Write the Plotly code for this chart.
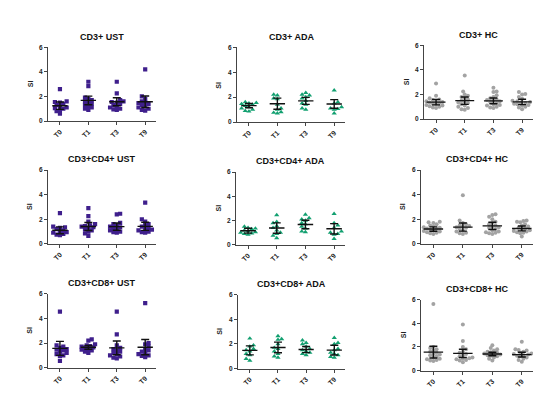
import plotly.graph_objects as go

W, H = 550, 394

categories = ["T0", "T1", "T3", "T9"]
y_ticks = [0, 2, 4, 6]

titles = [
    "CD3+ UST", "CD3+ ADA", "CD3+ HC",
    "CD3+CD4+ UST", "CD3+CD4+ ADA", "CD3+CD4+ HC",
    "CD3+CD8+ UST", "CD3+CD8+ ADA", "CD3+CD8+ HC",
]

# ---- data ----
cd3_ust = [
    [2.6, 1.6, 1.55, 1.5, 1.4, 1.3, 1.2, 1.1, 1.05, 1.0, 0.9, 0.8, 0.6],
    [3.2, 2.85, 1.9, 1.8, 1.7, 1.6, 1.5, 1.4, 1.3, 1.2, 1.1, 1.0, 0.9],
    [3.2, 2.25, 1.7, 1.6, 1.55, 1.5, 1.4, 1.3, 1.2, 1.1, 1.0, 0.95, 0.9],
    [4.2, 2.0, 1.8, 1.6, 1.5, 1.45, 1.4, 1.3, 1.2, 1.1, 1.0, 0.9, 0.85],
]
cd3_ust_mean = [1.25, 1.68, 1.57, 1.57]
cd3_ust_err = [0.3, 0.35, 0.33, 0.47]

cd3_ada = [
    [1.6, 1.55, 1.5, 1.45, 1.4, 1.3, 1.2, 1.1, 1.0, 0.9, 0.85],
    [2.2, 2.15, 1.9, 1.85, 1.4, 1.1, 1.0, 0.8, 0.75, 0.7],
    [2.35, 2.2, 2.15, 2.0, 1.9, 1.7, 1.5, 1.4, 1.1, 1.0],
    [2.55, 1.6, 1.5, 1.2, 1.1, 1.05, 1.0, 0.7],
]
cd3_ada_mean = [1.32, 1.47, 1.7, 1.45]
cd3_ada_err = [0.17, 0.45, 0.28, 0.35]

cd3_hc = [
    [2.9, 1.9, 1.7, 1.6, 1.55, 1.5, 1.45, 1.4, 1.35, 1.3, 1.25, 1.2, 1.15, 1.1, 1.05, 1.0, 0.95, 0.9],
    [3.55, 2.25, 2.0, 1.9, 1.8, 1.7, 1.6, 1.5, 1.4, 1.35, 1.3, 1.2, 1.1, 1.0, 0.9, 0.8, 0.75],
    [2.55, 2.25, 2.2, 1.95, 1.8, 1.7, 1.6, 1.55, 1.5, 1.45, 1.4, 1.3, 1.2, 1.15, 1.1, 1.0, 0.95, 0.9],
    [2.2, 2.05, 2.0, 1.8, 1.65, 1.5, 1.45, 1.4, 1.35, 1.3, 1.25, 1.2, 1.15, 1.1, 1.0, 0.95, 0.8],
]
cd3_hc_mean = [1.38, 1.5, 1.48, 1.4]
cd3_hc_err = [0.22, 0.3, 0.23, 0.22]

cd4_ust = [
    [2.5, 1.4, 1.35, 1.3, 1.2, 1.1, 1.0, 0.95, 0.9, 0.8, 0.75, 0.7],
    [2.9, 2.25, 1.8, 1.6, 1.5, 1.45, 1.4, 1.35, 1.3, 1.2, 1.1, 1.0, 0.85, 0.65],
    [2.45, 2.4, 1.7, 1.6, 1.5, 1.4, 1.35, 1.3, 1.2, 1.1, 1.0, 0.95, 0.9],
    [3.35, 2.0, 1.8, 1.6, 1.5, 1.4, 1.3, 1.2, 1.15, 1.1, 1.0, 0.95, 0.9],
]
cd4_ust_mean = [1.1, 1.41, 1.4, 1.42]
cd4_ust_err = [0.28, 0.33, 0.3, 0.33]

cd4_ada = [
    [1.5, 1.4, 1.35, 1.3, 1.2, 1.1, 1.05, 1.0, 0.95, 0.9, 0.85],
    [2.45, 1.9, 1.8, 1.55, 1.4, 1.2, 1.0, 0.9, 0.75, 0.55],
    [2.5, 2.2, 2.1, 2.0, 1.8, 1.7, 1.5, 1.35, 1.1, 1.05],
    [2.55, 1.8, 1.6, 1.4, 1.1, 1.0, 0.9, 0.85, 0.5],
]
cd4_ada_mean = [1.16, 1.38, 1.67, 1.32]
cd4_ada_err = [0.2, 0.43, 0.35, 0.43]

cd4_hc = [
    [1.8, 1.75, 1.7, 1.6, 1.5, 1.4, 1.35, 1.3, 1.25, 1.2, 1.15, 1.1, 1.05, 1.0, 0.95, 0.9, 0.85, 0.8],
    [3.95, 1.9, 1.7, 1.6, 1.5, 1.45, 1.4, 1.35, 1.3, 1.2, 1.1, 1.0, 0.9, 0.85, 0.8],
    [2.4, 2.35, 2.2, 2.0, 1.8, 1.7, 1.6, 1.5, 1.4, 1.35, 1.3, 1.2, 1.1, 1.0, 0.95, 0.9, 0.85, 0.8],
    [1.9, 1.85, 1.8, 1.75, 1.6, 1.5, 1.4, 1.3, 1.25, 1.2, 1.1, 1.05, 1.0, 0.95, 0.9, 0.85, 0.6],
]
cd4_hc_mean = [1.2, 1.36, 1.46, 1.25]
cd4_hc_err = [0.18, 0.33, 0.3, 0.2]

cd8_ust = [
    [4.55, 1.8, 1.7, 1.6, 1.5, 1.45, 1.4, 1.3, 1.2, 1.1, 1.0, 0.95, 0.55],
    [2.3, 2.2, 1.9, 1.8, 1.75, 1.7, 1.65, 1.6, 1.5, 1.45, 1.4, 1.3, 1.2],
    [4.55, 2.7, 1.8, 1.6, 1.5, 1.4, 1.3, 1.2, 1.1, 1.0, 0.9, 0.8, 0.75],
    [5.25, 2.0, 1.9, 1.7, 1.5, 1.4, 1.3, 1.2, 1.1, 1.0, 0.95, 0.85],
]
cd8_ust_mean = [1.56, 1.65, 1.6, 1.66]
cd8_ust_err = [0.57, 0.16, 0.56, 0.62]

cd8_ada = [
    [2.45, 1.9, 1.8, 1.6, 1.5, 1.4, 1.2, 1.1, 0.8, 0.65],
    [2.65, 2.4, 2.35, 2.0, 1.7, 1.6, 1.4, 1.2, 1.0, 0.9],
    [2.3, 2.1, 2.0, 1.8, 1.6, 1.5, 1.4, 1.3, 1.2, 1.1],
    [2.5, 2.1, 2.0, 1.6, 1.5, 1.3, 1.2, 1.1, 0.95, 0.9],
]
cd8_ada_mean = [1.48, 1.72, 1.55, 1.5]
cd8_ada_err = [0.37, 0.43, 0.25, 0.4]

cd8_hc = [
    [5.65, 2.0, 1.9, 1.8, 1.7, 1.6, 1.5, 1.4, 1.35, 1.3, 1.2, 1.1, 1.0, 0.95, 0.9, 0.85, 0.8],
    [3.9, 2.5, 2.0, 1.8, 1.6, 1.5, 1.4, 1.3, 1.2, 1.1, 1.05, 1.0, 0.95, 0.9, 0.85, 0.7],
    [2.15, 1.9, 1.8, 1.7, 1.6, 1.55, 1.5, 1.45, 1.4, 1.35, 1.3, 1.25, 1.2, 1.1, 1.0, 0.85],
    [2.45, 1.8, 1.75, 1.7, 1.6, 1.5, 1.45, 1.4, 1.35, 1.3, 1.25, 1.2, 1.1, 1.0, 0.9, 0.75],
]
cd8_hc_mean = [1.56, 1.45, 1.4, 1.35]
cd8_hc_err = [0.5, 0.35, 0.15, 0.2]

panel_data = [
    (cd3_ust, cd3_ust_mean, cd3_ust_err, "UST"),
    (cd3_ada, cd3_ada_mean, cd3_ada_err, "ADA"),
    (cd3_hc, cd3_hc_mean, cd3_hc_err, "HC"),
    (cd4_ust, cd4_ust_mean, cd4_ust_err, "UST"),
    (cd4_ada, cd4_ada_mean, cd4_ada_err, "ADA"),
    (cd4_hc, cd4_hc_mean, cd4_hc_err, "HC"),
    (cd8_ust, cd8_ust_mean, cd8_ust_err, "UST"),
    (cd8_ada, cd8_ada_mean, cd8_ada_err, "ADA"),
    (cd8_hc, cd8_hc_mean, cd8_hc_err, "HC"),
]

# ---- styles / layout (pixels) ----
styles = {
    "UST": dict(symbol="square", color="#3f1f8c", size=4.2, half=0.27, maxoff=0.26),
    "ADA": dict(symbol="triangle-up", color="#12a070", size=4.6, half=0.27, maxoff=0.26),
    "HC": dict(symbol="circle", color="#a3a3a3", size=4.0, half=0.33, maxoff=0.34),
}

# (x_left, x_right, y_top(=6), y_bottom(=0)) in pixels
boxes = [
    (40, 148, 36, 111), (229, 337, 36, 112), (416, 525, 34, 109),
    (40, 148, 161, 236), (228, 337, 163, 237), (413, 525, 161, 236),
    (40, 148, 287, 362), (230, 337, 288, 363), (413, 525, 293, 365),
]
XR = [-0.42, 3.38]


def swarm(vals, xs_px, ys_px, diam, maxoff):
    order = sorted(range(len(vals)), key=lambda i: vals[i])
    placed = []
    offs = [0.0] * len(vals)
    step = diam * 0.5
    lim = maxoff * xs_px
    for i in order:
        y = vals[i] * ys_px
        best, bestd = 0.0, -1.0
        k = 0
        found = False
        while k * step <= lim + 1e-9:
            cands = [0.0] if k == 0 else [k * step, -k * step]
            if len(placed) % 2 == 1:
                cands = cands[::-1]
            for c in cands:
                d = min([((c - px) ** 2 + (y - py) ** 2) ** 0.5 for px, py in placed] or [1e9])
                if d >= diam:
                    best = c
                    found = True
                    break
                if d > bestd:
                    bestd, best = d, c
            if found:
                break
            k += 1
        placed.append((best, y))
        offs[i] = best / xs_px
    return offs


fig = go.Figure()
annotations = []
FONT = "Liberation Sans, Arial"

for p, ((vals, mean, err, grp), box) in enumerate(zip(panel_data, boxes)):
    st = styles[grp]
    xl, xr, yt, yb = box
    sfx = "" if p == 0 else str(p + 1)
    xa, ya = "x" + sfx, "y" + sfx
    xs_px = (xr - xl) / (XR[1] - XR[0])
    ys_px = (yb - yt) / 6.0

    xs, ys = [], []
    for ci, cv in enumerate(vals):
        offs = swarm(cv, xs_px, ys_px, st["size"] * 0.8, st["maxoff"])
        xs += [ci + o for o in offs]
        ys += cv
    fig.add_trace(go.Scatter(
        x=xs, y=ys, mode="markers", xaxis=xa, yaxis=ya,
        marker=dict(symbol=st["symbol"], color=st["color"], size=st["size"], line=dict(width=0)),
        showlegend=False, hoverinfo="skip"))

    lx, ly = [], []
    for ci, m in enumerate(mean):
        lx += [ci - st["half"], ci + st["half"], None]
        ly += [m, m, None]
    fig.add_trace(go.Scatter(
        x=lx, y=ly, mode="lines", xaxis=xa, yaxis=ya,
        line=dict(color="#111", width=1.4), showlegend=False, hoverinfo="skip"))
    fig.add_trace(go.Scatter(
        x=list(range(len(categories))), y=mean, mode="markers", xaxis=xa, yaxis=ya,
        marker=dict(size=0.1, color="rgba(0,0,0,0)"),
        error_y=dict(type="data", array=err, color="#111", thickness=1.4, width=4),
        showlegend=False, hoverinfo="skip"))

    dom_x = [xl / W, xr / W]
    dom_y = [1 - yb / H, 1 - yt / H]
    fig.layout["xaxis" + sfx] = dict(
        domain=dom_x, anchor=ya, range=XR, tickmode="array",
        tickvals=list(range(len(categories))),
        ticktext=["<b>" + c + "</b>" for c in categories],
        tickangle=-45, ticks="outside", ticklen=3, tickwidth=1, tickcolor="#444",
        showline=True, linecolor="#444", linewidth=1, showgrid=False, zeroline=False,
        tickfont=dict(family=FONT, size=7, color="#222"))
    fig.layout["yaxis" + sfx] = dict(
        domain=dom_y, anchor=xa, range=[0, 6], tickmode="array", tickvals=y_ticks,
        ticktext=["<b>%d</b>" % t for t in y_ticks],
        ticks="outside", ticklen=3, tickwidth=1, tickcolor="#444",
        showline=True, linecolor="#444", linewidth=1, showgrid=False, zeroline=False,
        tickfont=dict(family=FONT, size=6.5, color="#222"))

    annotations.append(dict(
        text="<b>" + titles[p] + "</b>", x=(xl + xr) / 2 / W, y=1 - (yt - 11) / H,
        xref="paper", yref="paper", showarrow=False, xanchor="center", yanchor="middle",
        font=dict(family=FONT, size=9, color="#111")))
    annotations.append(dict(
        text="<b>SI</b>", x=(xl - 18) / W, y=1 - ((yt + yb) / 2) / H,
        xref="paper", yref="paper", showarrow=False, textangle=-90,
        xanchor="center", yanchor="middle",
        font=dict(family=FONT, size=7, color="#222")))

fig.update_layout(
    width=W, height=H, margin=dict(l=0, r=0, t=0, b=0),
    paper_bgcolor="white", plot_bgcolor="white",
    annotations=annotations,
    shapes=[dict(type="line", xref="paper", yref="paper", x0=540 / W, x1=540 / W,
                 y0=0, y1=1, line=dict(color="#dde9f7", width=1))],
)

fig.write_html("out.html")
